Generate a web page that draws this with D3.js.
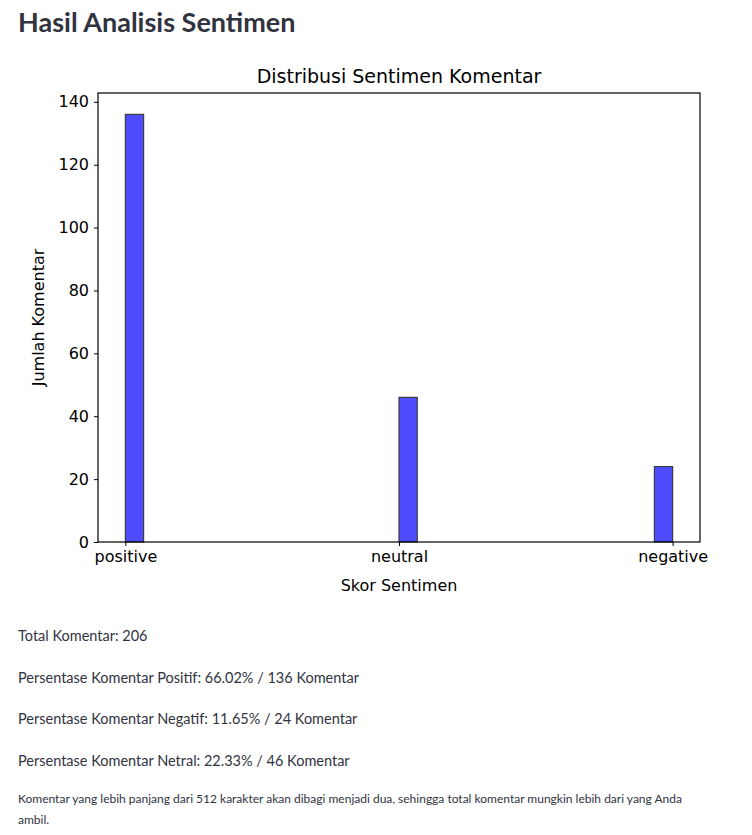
<!DOCTYPE html>
<html>
<head>
<meta charset="utf-8">
<script src="https://cdn.jsdelivr.net/npm/d3@7"></script>
<style>
  body { margin: 0; background: #fff; }
  svg text { fill: #000; }
</style>
</head>
<body>
<svg id="chart" width="752" height="835"></svg>
<script>
// data
var categories = ["positive", "neutral", "negative"];
var counts = [136, 46, 24];
var yTicks = [0, 20, 40, 60, 80, 100, 120, 140];
var infoLines = [
    "Total Komentar: 206",
    "Persentase Komentar Positif: 66.02% / 136 Komentar",
    "Persentase Komentar Negatif: 11.65% / 24 Komentar",
    "Persentase Komentar Netral: 22.33% / 46 Komentar"
];
var noteLines = [
    "Komentar yang lebih panjang dari 512 karakter akan dibagi menjadi dua, sehingga total komentar mungkin lebih dari yang Anda",
    "ambil."
];

var svg = d3.select("#chart");
var pageFont = "'Source Sans Pro', Lato, sans-serif";
var textColor = "rgb(49,51,63)";

// page heading
svg.append("text")
    .attr("x", 18).attr("y", 32)
    .style("font-family", pageFont).style("font-size", "27px").style("font-weight", 700)
    .style("fill", textColor)
    .text("Hasil Analisis Sentimen");

var plotLeft = 98, plotRight = 700, plotTop = 93, plotBottom = 542;
var mpl = "'DejaVu Sans', sans-serif";

// histogram with 30 bins over 0..2, matplotlib style margins
var nBins = 30, binW = 2 / nBins;
var bins = categories.map(function(c, i) {
    var x0 = i === 0 ? 0 : (i === 1 ? 1 : 2 - binW);
    return {cat: c, x0: x0, x1: x0 + binW, n: counts[i]};
});

var x = d3.scaleLinear().domain([-0.1, 2.1]).range([plotLeft, plotRight]);
var y = d3.scaleLinear().domain([0, 142.8]).range([plotBottom, plotTop]);

svg.selectAll(".bar")
    .data(bins)
    .enter().append("rect")
    .attr("class", "bar")
    .attr("x", function(d) { return x(d.x0); })
    .attr("width", function(d) { return x(d.x1) - x(d.x0); })
    .attr("y", function(d) { return y(d.n); })
    .attr("height", function(d) { return y(0) - y(d.n); })
    .style("fill", "rgb(77,77,255)")
    .style("stroke", "rgb(60,60,60)")
    .style("stroke-width", 1.2);

// x axis
var xAxis = svg.append("g")
    .attr("transform", "translate(0," + plotBottom + ")")
    .call(d3.axisBottom(x).tickValues([0, 1, 2])
        .tickFormat(function(d) { return categories[d]; })
        .tickSizeOuter(0).tickSize(4).tickPadding(5));

// y axis
var yAxis = svg.append("g")
    .attr("transform", "translate(" + plotLeft + ",0)")
    .call(d3.axisLeft(y).tickValues(yTicks).tickSizeOuter(0).tickSize(4).tickPadding(5));

[xAxis, yAxis].forEach(function(g) {
    g.select(".domain").remove();
    g.selectAll("line").style("stroke", "#000").style("stroke-width", 1);
    g.selectAll("text").style("font-family", mpl).style("font-size", "16px").style("fill", "#000");
});

// frame
svg.append("rect")
    .attr("x", plotLeft).attr("y", plotTop)
    .attr("width", plotRight - plotLeft).attr("height", plotBottom - plotTop)
    .style("fill", "none").style("stroke", "#000").style("stroke-width", 1.2);

// titles
svg.append("text")
    .attr("x", (plotLeft + plotRight) / 2).attr("y", 83)
    .attr("text-anchor", "middle")
    .style("font-family", mpl).style("font-size", "19px")
    .text("Distribusi Sentimen Komentar");

svg.append("text")
    .attr("x", (plotLeft + plotRight) / 2).attr("y", 591)
    .attr("text-anchor", "middle")
    .style("font-family", mpl).style("font-size", "16px")
    .text("Skor Sentimen");

svg.append("text")
    .attr("transform", "translate(44," + (plotTop + plotBottom) / 2 + ") rotate(-90)")
    .attr("text-anchor", "middle")
    .style("font-family", mpl).style("font-size", "16px")
    .text("Jumlah Komentar");

// text under the chart
svg.selectAll(".info")
    .data(infoLines)
    .enter().append("text")
    .attr("class", "info")
    .attr("x", 18)
    .attr("y", function(d, i) { return 641 + i * 41.5; })
    .style("font-family", pageFont).style("font-size", "14.5px").style("fill", textColor)
    .text(function(d) { return d; });

svg.selectAll(".note")
    .data(noteLines)
    .enter().append("text")
    .attr("class", "note")
    .attr("x", 18)
    .attr("y", function(d, i) { return 803 + i * 21; })
    .style("font-family", pageFont).style("font-size", "12px").style("fill", textColor)
    .text(function(d) { return d; });
</script>
</body>
</html>
